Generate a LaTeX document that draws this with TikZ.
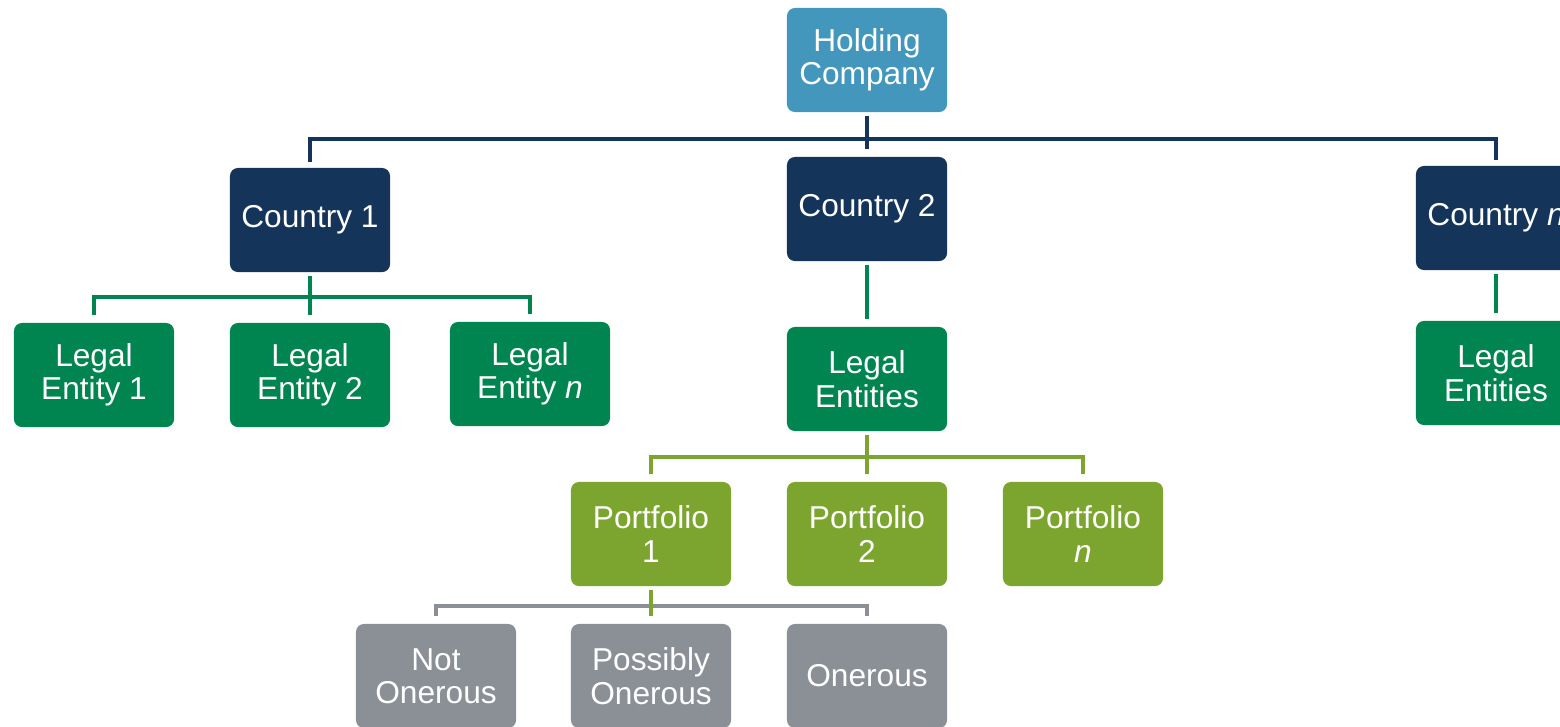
\documentclass[tikz,border=0pt]{standalone}
\usepackage{fontspec}
\setmainfont{Liberation Sans}
\usetikzlibrary{positioning}

\definecolor{hcblue}{RGB}{67,151,189}
\definecolor{navy}{RGB}{20,52,90}
\definecolor{entgreen}{RGB}{0,132,80}
\definecolor{olive}{RGB}{123,165,46}
\definecolor{riskgray}{RGB}{138,144,149}

\tikzset{
  box/.style={rectangle, rounded corners=0.08cm, minimum width=1.6cm,
    minimum height=1.04cm, inner sep=0pt, text=white, align=center,
    font=\fontsize{9}{9.5}\selectfont},
  hcbox/.style={box, fill=hcblue},
  ctrybox/.style={box, fill=navy},
  entbox/.style={box, fill=entgreen},
  portbox/.style={box, fill=olive},
  riskbox/.style={box, fill=riskgray},
  link/.style={line width=1.4pt}
}

\begin{document}
\begin{tikzpicture}[x=0.01cm,y=-0.01cm]
\useasboundingbox (0,0) rectangle (1560,726);
\clip (0,0) rectangle (1560,726);
% boxes
\node[hcbox] (hc) at (867,60) {Holding\\Company};
\node[ctrybox] (c1) at (310,220) {Country 1};
\node[ctrybox] (c2) at (867,209) {Country 2};
\node[ctrybox] (cn) at (1496,218) {Country \textit{n}};
\node[entbox] (le1) at (94,375) {Legal\\Entity 1};
\node[entbox] (le2) at (310,375) {Legal\\Entity 2};
\node[entbox] (len) at (530,374) {Legal\\Entity \textit{n}};
\node[entbox] (les2) at (867,379) {Legal\\Entities};
\node[entbox] (lesn) at (1496,373) {Legal\\Entities};
\node[portbox] (p1) at (651,534) {Portfolio\\1};
\node[portbox] (p2) at (867,534) {Portfolio\\2};
\node[portbox] (pn) at (1083,534) {Portfolio\\\textit{n}};
\node[riskbox] (r1) at (436,676) {Not\\Onerous};
\node[riskbox] (r2) at (651,676) {Possibly\\Onerous};
\node[riskbox] (r3) at (867,676) {Onerous};
% bus points
\coordinate (busc) at (867,139);
\coordinate (buse) at (310,297);
\coordinate (busp) at (867,457);
\coordinate (busr) at (651,606);
% holding company to countries
\draw[link, navy] ([yshift=1.5pt]c1.north) |- (busc) -| ([yshift=1.5pt]cn.north);
\draw[link, navy] ([yshift=-1pt]hc.south) -- ([yshift=2pt]c2.north);
% countries to legal entities
\draw[link, entgreen] ([yshift=2pt]le1.north) |- (buse) -| ([yshift=2pt]len.north);
\draw[link, entgreen] ([yshift=-1pt]c1.south) -- ([yshift=2pt]le2.north);
\draw[link, entgreen] ([yshift=-1pt]c2.south) -- ([yshift=2pt]les2.north);
\draw[link, entgreen] ([yshift=-1pt]cn.south) -- ([yshift=2pt]lesn.north);
% legal entities to portfolios
\draw[link, olive] ([yshift=2pt]p1.north) |- (busp) -| ([yshift=2pt]pn.north);
\draw[link, olive] ([yshift=-1pt]les2.south) -- ([yshift=2pt]p2.north);
% portfolio 1 to risk groups
\draw[link, riskgray] ([yshift=2pt]r1.north) |- (busr) -| ([yshift=2pt]r3.north);
\draw[link, olive] ([yshift=-1pt]p1.south) -- ([yshift=2pt]r2.north);
\end{tikzpicture}
\end{document}
